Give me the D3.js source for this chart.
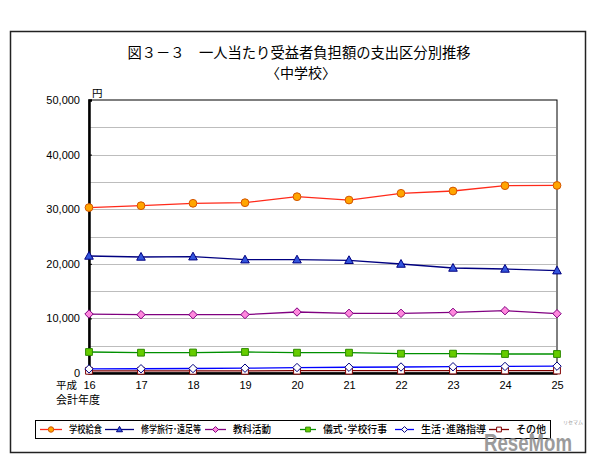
<!DOCTYPE html>
<html><head><meta charset="utf-8">
<script src="https://cdn.jsdelivr.net/npm/d3@7"></script>
<style>body{margin:0;background:#fff}svg{display:block}</style>
</head><body>
<svg id="c" width="594" height="461"></svg>
<script>
const years = ["16","17","18","19","20","21","22","23","24","25"];
const yTicks = [0,10000,20000,30000,40000,50000];
const gridVals = [5000,10000,15000,20000,25000,30000,35000,40000,45000];
const seriesNames = ["学校給食","修学旅行･遠足等","教科活動","儀式･学校行事","生活･進路指導","その他"];
const kyushoku = [30300,30640,31080,31190,32290,31680,32910,33330,34310,34350];
const shugaku = [21430,21250,21300,20750,20750,20640,19960,19230,19050,18740];
const kyoka = [10800,10680,10680,10700,11170,10930,10930,11110,11410,10860];
const gishiki = [3850,3720,3750,3850,3720,3720,3540,3540,3480,3480];
const seikatsu = [750,780,820,880,1000,1050,1100,1150,1200,1250];
const sonota = [400,400,400,400,420,420,450,450,450,450];
const seriesData = [kyushoku, shugaku, kyoka, gishiki, seikatsu, sonota];

// custom marker shapes (size = half-extent in px)
const circ = {draw(c,s){c.moveTo(s,0);c.arc(0,0,s,0,2*Math.PI);}};
const tri = {draw(c,s){c.moveTo(0,-s*1.05);c.lineTo(s,s*0.75);c.lineTo(-s,s*0.75);c.closePath();}};
const dia = {draw(c,s){c.moveTo(0,-s);c.lineTo(s,0);c.lineTo(0,s);c.lineTo(-s,0);c.closePath();}};
const sq = {draw(c,s){c.rect(-s,-s,2*s,2*s);}};

const styles = [
  {line:"#ff2a1a", fill:"#ffa500", stroke:"#d45500", shape:circ, size:3.9},
  {line:"#000080", fill:"#3355dd", stroke:"#000080", shape:tri, size:4.3},
  {line:"#800080", fill:"#ff88dd", stroke:"#800080", shape:dia, size:4.2},
  {line:"#009000", fill:"#66cc00", stroke:"#2e8b00", shape:sq, size:3.4},
  {line:"#0000ff", fill:"#ffffff", stroke:"#000080", shape:dia, size:4.2},
  {line:"#800000", fill:"#ffffff", stroke:"#800000", shape:sq, size:3.4}
];

const svg = d3.select("#c");
const jp = "'Noto Sans CJK JP', sans-serif";
const num = "'Liberation Sans', Arial, sans-serif";

// outer frame
svg.append("rect").attr("x",10.5).attr("y",31.5).attr("width",575).attr("height",421)
  .attr("fill","#fff").attr("stroke","#222").attr("stroke-width",1.5);

// title
svg.append("text").attr("x",299).attr("y",58).attr("text-anchor","middle")
  .attr("font-family",jp).attr("font-size",14.3).attr("fill","#000")
  .text("図３－３　一人当たり受益者負担額の支出区分別推移");
svg.append("text").attr("x",301).attr("y",78).attr("text-anchor","middle")
  .attr("font-family",jp).attr("font-size",14).attr("fill","#000")
  .text("〈中学校〉");

const x = d3.scalePoint().domain(years).range([89,557]);
const y = d3.scaleLinear().domain([0,50000]).range([373,100]);

// plot box
svg.append("rect").attr("x",89).attr("y",100).attr("width",468).attr("height",273)
  .attr("fill","#fff").attr("stroke","#000").attr("stroke-width",1);

// grid
svg.append("g").selectAll("line").data(gridVals).join("line")
  .attr("x1",90).attr("x2",556).attr("y1",d=>Math.round(y(d))+0.5).attr("y2",d=>Math.round(y(d))+0.5)
  .attr("stroke","#bdbdbd").attr("stroke-width",1);

// y axis
const yAxis = svg.append("g").attr("transform","translate(89,0)")
  .call(d3.axisLeft(y).tickValues(yTicks).tickFormat(d3.format(",")).tickSize(-3).tickPadding(9));
yAxis.select(".domain").attr("stroke","#000").attr("stroke-width",2.5);
yAxis.selectAll("text").attr("font-family",num).attr("font-size",11).attr("fill","#000");
yAxis.selectAll(".tick line").attr("stroke","#000");

// x axis
const xAxis = svg.append("g").attr("transform","translate(0,373)")
  .call(d3.axisBottom(x).tickSize(0).tickPadding(8));
xAxis.select(".domain").attr("stroke","#000").attr("stroke-width",2.5);
xAxis.selectAll("text").attr("font-family",num).attr("font-size",11).attr("fill","#000");

svg.append("text").attr("x",92).attr("y",97).attr("font-family",jp).attr("font-size",10.5).text("円");
svg.append("text").attr("x",56).attr("y",389).attr("font-family",jp).attr("font-size",10.5).text("平成");
svg.append("text").attr("x",56).attr("y",404).attr("font-family",jp).attr("font-size",11).text("会計年度");

// series (draw in reverse so 学校給食 on top)
const line = d3.line().x((d,i)=>x(years[i])).y(d=>y(d));
for (let k = seriesData.length-1; k >= 0; k--) {
  const st = styles[k];
  const g = svg.append("g");
  g.append("path").datum(seriesData[k]).attr("d",line).attr("fill","none")
    .attr("stroke",st.line).attr("stroke-width",1.3);
  g.selectAll("path.m").data(seriesData[k]).join("path").attr("class","m")
    .attr("transform",(d,i)=>`translate(${x(years[i])},${y(d)})`)
    .attr("d",d3.symbol().type(st.shape).size(st.size))
    .attr("fill",st.fill).attr("stroke",st.stroke).attr("stroke-width",1);
}

// legend
svg.append("rect").attr("x",35.5).attr("y",420.5).attr("width",515).attr("height",18)
  .attr("fill","#fff").attr("stroke","#000").attr("stroke-width",1);
const legX = [[40,69],[105,141],[205,233],[300,323],[395,421],[489,516]];
const legW = [33,60,38,64,65,30];
seriesNames.forEach((n,k)=>{
  const st = styles[k];
  const [lx,tx] = legX[k];
  const cy = 429.5;
  const le = tx - 7;
  svg.append("line").attr("x1",lx).attr("x2",le).attr("y1",cy).attr("y2",cy)
    .attr("stroke",st.line).attr("stroke-width",1.3);
  svg.append("path").attr("transform",`translate(${(lx+le)/2},${cy})`)
    .attr("d",d3.symbol().type(st.shape).size(st.size*0.7))
    .attr("fill",st.fill).attr("stroke",st.stroke).attr("stroke-width",1);
  svg.append("text").attr("x",tx).attr("y",cy+3.5).attr("font-family",jp).attr("font-size",10)
    .attr("font-weight",500).attr("fill","#000")
    .attr("textLength",legW[k]).attr("lengthAdjust","spacingAndGlyphs").text(n);
});

// watermark
svg.append("text").attr("x",484).attr("y",451).attr("font-family",num).attr("font-weight","bold")
  .attr("font-size",24).attr("fill","#8a8a8a").attr("opacity",0.85)
  .attr("textLength",88).attr("lengthAdjust","spacingAndGlyphs").text("ReseMom");
svg.append("text").attr("x",563).attr("y",424).attr("font-family",jp).attr("font-size",5)
  .attr("fill","#999").text("リセマム");
</script>
</body></html>
